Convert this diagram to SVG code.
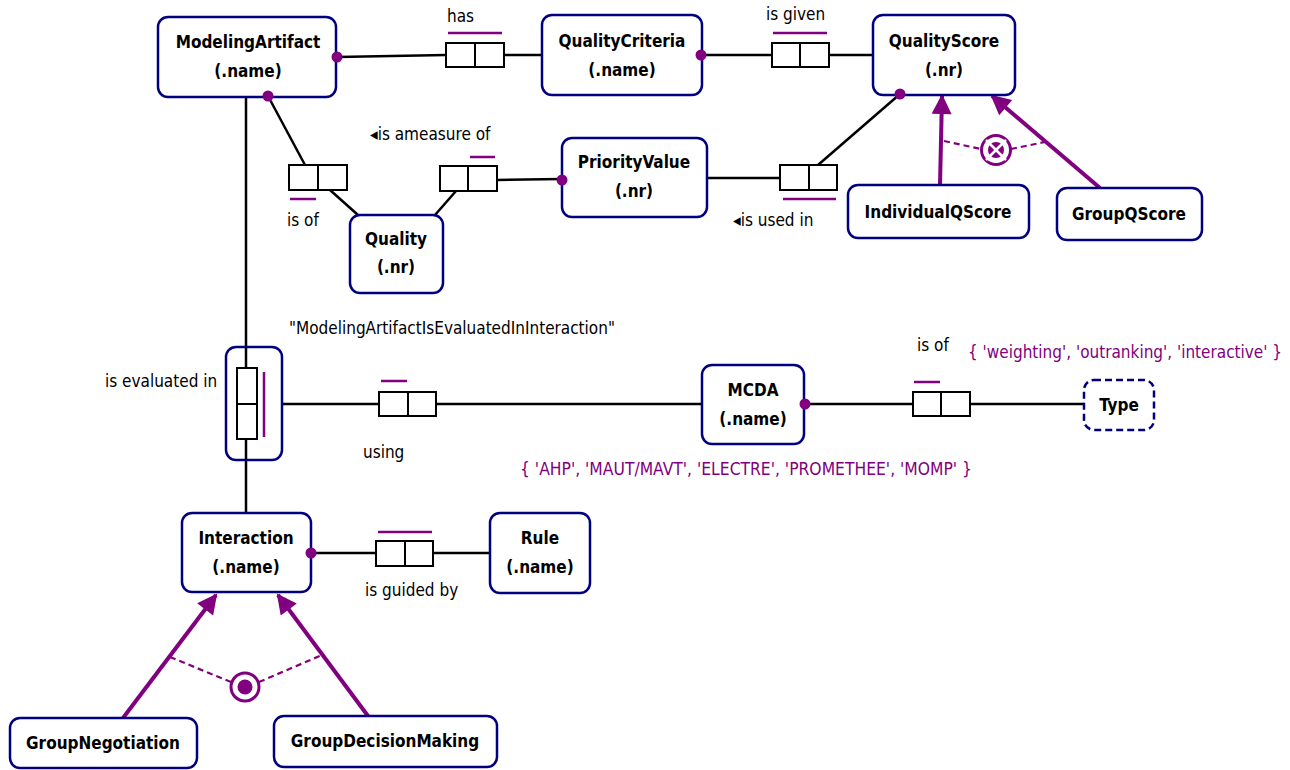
<svg xmlns="http://www.w3.org/2000/svg" width="1290" height="770" viewBox="0 0 1290 770">
<style>
.node{fill:#fff;stroke:#000080;stroke-width:2.5}
.dash{stroke-dasharray:7 4}
.t{font-family:"DejaVu Sans Condensed","DejaVu Sans",sans-serif;font-weight:bold;font-size:17px;text-anchor:middle;fill:#000}
.l{font-family:"DejaVu Sans Condensed","DejaVu Sans",sans-serif;font-size:17px;fill:#000}
.p{font-family:"DejaVu Sans Condensed","DejaVu Sans",sans-serif;font-size:17px;fill:#800080}
.c{stroke:#000;stroke-width:2.5;fill:none}
.role{fill:#fff;stroke:#000;stroke-width:2}
.u{stroke:#800080;stroke-width:2.5}
.sub{stroke:#800080;stroke-width:4;fill:none;marker-end:url(#ah)}
.cd{stroke:#800080;stroke-width:2.2;stroke-dasharray:6 4;fill:none}
.dot{fill:#800080}
</style>
<defs>
<marker id="ah" viewBox="0 0 10 10" markerWidth="5.5" markerHeight="5" refX="9" refY="5" orient="auto" markerUnits="strokeWidth">
<path d="M0,0 L10,5 L0,10 z" fill="#800080"/>
</marker>
</defs>

<g id="connectors">
<line class="c" x1="337" y1="57" x2="446" y2="55"/>
<line class="c" x1="504" y1="55" x2="542" y2="55"/>
<line class="c" x1="702" y1="55" x2="772" y2="55"/>
<line class="c" x1="829" y1="55" x2="873" y2="55"/>
<line class="c" x1="268" y1="96" x2="305" y2="165"/>
<line class="c" x1="330" y1="190" x2="358" y2="215"/>
<line class="c" x1="435" y1="215" x2="456" y2="191"/>
<line class="c" x1="497" y1="180" x2="562" y2="179"/>
<line class="c" x1="707" y1="178" x2="780" y2="178"/>
<line class="c" x1="818" y1="165" x2="900" y2="94"/>
<line class="c" x1="246" y1="97" x2="246" y2="513"/>
<line class="c" x1="282" y1="404" x2="379" y2="404"/>
<line class="c" x1="436" y1="404" x2="702" y2="404"/>
<line class="c" x1="805" y1="404" x2="913" y2="404"/>
<line class="c" x1="970" y1="404" x2="1084" y2="404"/>
<line class="c" x1="311" y1="553" x2="376" y2="553"/>
<line class="c" x1="433" y1="553" x2="490" y2="553"/>
<line class="sub" x1="940" y1="185" x2="942" y2="96"/>
<line class="sub" x1="1100" y1="188" x2="992" y2="96"/>
<line class="sub" x1="123" y1="718" x2="216" y2="595"/>
<line class="sub" x1="368" y1="716" x2="278" y2="595"/>
<line class="cd" x1="944" y1="141" x2="981" y2="149"/>
<line class="cd" x1="1011" y1="149" x2="1045" y2="142"/>
<line class="cd" x1="170" y1="657" x2="231" y2="682"/>
<line class="cd" x1="259" y1="682" x2="322" y2="655"/>
</g>

<g id="constraint-xor">
<circle cx="996" cy="150" r="14.5" fill="#fff" stroke="#800080" stroke-width="3"/>
<circle class="dot" cx="996" cy="150" r="8"/>
<line x1="986" y1="140" x2="1006" y2="160" stroke="#fff" stroke-width="2.5"/>
<line x1="1006" y1="140" x2="986" y2="160" stroke="#fff" stroke-width="2.5"/>
</g>
<g id="constraint-or">
<circle cx="245" cy="687" r="14" fill="#fff" stroke="#800080" stroke-width="3"/>
<circle class="dot" cx="245" cy="687" r="7.5"/>
</g>

<g id="rel-has">
<rect class="role" x="446" y="43" width="58" height="24"/>
<line class="role" x1="475" y1="43" x2="475" y2="67"/>
<line class="u" x1="448" y1="33" x2="502" y2="33"/>
<text class="l" x="447" y="22">has</text>
</g>
<g id="rel-isgiven">
<rect class="role" x="772" y="43" width="57" height="24"/>
<line class="role" x1="800" y1="43" x2="800" y2="67"/>
<line class="u" x1="773" y1="33" x2="827" y2="33"/>
<text class="l" x="766" y="20">is given</text>
</g>
<g id="rel-isof">
<rect class="role" x="289" y="165" width="58" height="25"/>
<line class="role" x1="318" y1="165" x2="318" y2="190"/>
<line class="u" x1="290" y1="199" x2="316" y2="199"/>
<text class="l" x="287" y="226">is of</text>
</g>
<g id="rel-measure">
<rect class="role" x="440" y="166" width="57" height="25"/>
<line class="role" x1="468" y1="166" x2="468" y2="191"/>
<line class="u" x1="470" y1="157" x2="495" y2="157"/>
<text class="l" x="370" y="140">◂is ameasure of</text>
</g>
<g id="rel-usedin">
<rect class="role" x="780" y="165" width="57" height="25"/>
<line class="role" x1="809" y1="165" x2="809" y2="190"/>
<line class="u" x1="783" y1="199" x2="836" y2="199"/>
<text class="l" x="733" y="226">◂is used in</text>
</g>
<g id="rel-evaluated">
<rect x="226" y="347" width="56" height="113" rx="10" fill="#fff" stroke="#000080" stroke-width="2.5"/>
<line class="c" x1="246" y1="347" x2="246" y2="368"/>
<line class="c" x1="246" y1="439" x2="246" y2="460"/>
<rect class="role" x="237" y="368" width="20" height="71"/>
<line class="role" x1="237" y1="404" x2="257" y2="404"/>
<line class="u" x1="264" y1="372" x2="264" y2="437"/>
<text class="l" x="105" y="387">is evaluated in</text>
<text class="l" x="289" y="334">"ModelingArtifactIsEvaluatedInInteraction"</text>
</g>
<g id="rel-using">
<rect class="role" x="379" y="392" width="57" height="24"/>
<line class="role" x1="408" y1="392" x2="408" y2="416"/>
<line class="u" x1="381" y1="381" x2="407" y2="381"/>
<text class="l" x="363" y="458">using</text>
</g>
<g id="rel-typeof">
<rect class="role" x="913" y="392" width="57" height="24"/>
<line class="role" x1="941" y1="392" x2="941" y2="416"/>
<line class="u" x1="914" y1="382" x2="940" y2="382"/>
<text class="l" x="917" y="351">is of</text>
</g>
<g id="rel-guided">
<rect class="role" x="376" y="541" width="57" height="25"/>
<line class="role" x1="405" y1="541" x2="405" y2="566"/>
<line class="u" x1="378" y1="532" x2="432" y2="532"/>
<text class="l" x="365" y="596">is guided by</text>
</g>

<g id="ModelingArtifact">
<rect class="node" x="158" y="17" width="178" height="80" rx="10"/>
<text class="t" x="248" y="48">ModelingArtifact</text>
<text class="t" x="248" y="77">(.name)</text>
</g>
<g id="QualityCriteria">
<rect class="node" x="542" y="15" width="160" height="80" rx="10"/>
<text class="t" x="622" y="47">QualityCriteria</text>
<text class="t" x="622" y="76">(.name)</text>
</g>
<g id="QualityScore">
<rect class="node" x="873" y="15" width="142" height="80" rx="10"/>
<text class="t" x="944" y="47">QualityScore</text>
<text class="t" x="944" y="76">(.nr)</text>
</g>
<g id="PriorityValue">
<rect class="node" x="562" y="138" width="145" height="79" rx="10"/>
<text class="t" x="634" y="168">PriorityValue</text>
<text class="t" x="634" y="197">(.nr)</text>
</g>
<g id="Quality">
<rect class="node" x="350" y="215" width="93" height="78" rx="10"/>
<text class="t" x="396" y="245">Quality</text>
<text class="t" x="396" y="273">(.nr)</text>
</g>
<g id="IndividualQScore">
<rect class="node" x="848" y="185" width="181" height="53" rx="10"/>
<text class="t" x="938" y="218">IndividualQScore</text>
</g>
<g id="GroupQScore">
<rect class="node" x="1057" y="188" width="145" height="52" rx="10"/>
<text class="t" x="1129" y="220">GroupQScore</text>
</g>
<g id="MCDA">
<rect class="node" x="702" y="365" width="102" height="79" rx="10"/>
<text class="t" x="753" y="396">MCDA</text>
<text class="t" x="753" y="425">(.name)</text>
</g>
<g id="Type">
<rect class="node dash" x="1084" y="380" width="70" height="50" rx="10"/>
<text class="t" x="1119" y="411">Type</text>
</g>
<text class="p" x="968" y="358">{ 'weighting', 'outranking', 'interactive' }</text>
<text class="p" x="520" y="475" textLength="452" lengthAdjust="spacingAndGlyphs">{ 'AHP', 'MAUT/MAVT', 'ELECTRE', 'PROMETHEE', 'MOMP' }</text>
<g id="Interaction">
<rect class="node" x="182" y="513" width="129" height="79" rx="10"/>
<text class="t" x="246" y="544">Interaction</text>
<text class="t" x="246" y="573">(.name)</text>
</g>
<g id="Rule">
<rect class="node" x="490" y="513" width="100" height="80" rx="10"/>
<text class="t" x="540" y="544">Rule</text>
<text class="t" x="540" y="573">(.name)</text>
</g>
<g id="GroupNegotiation">
<rect class="node" x="10" y="718" width="187" height="50" rx="10"/>
<text class="t" x="103" y="749">GroupNegotiation</text>
</g>
<g id="GroupDecisionMaking">
<rect class="node" x="274" y="716" width="223" height="51" rx="10"/>
<text class="t" x="385" y="747">GroupDecisionMaking</text>
</g>

<g id="role-dots">
<circle class="dot" cx="337" cy="57" r="5.5"/>
<circle class="dot" cx="268" cy="96" r="5.5"/>
<circle class="dot" cx="701" cy="55" r="5.5"/>
<circle class="dot" cx="900" cy="94" r="5.5"/>
<circle class="dot" cx="562" cy="180" r="5.5"/>
<circle class="dot" cx="805" cy="404" r="5.5"/>
<circle class="dot" cx="311" cy="553" r="5.5"/>
</g>
</svg>
